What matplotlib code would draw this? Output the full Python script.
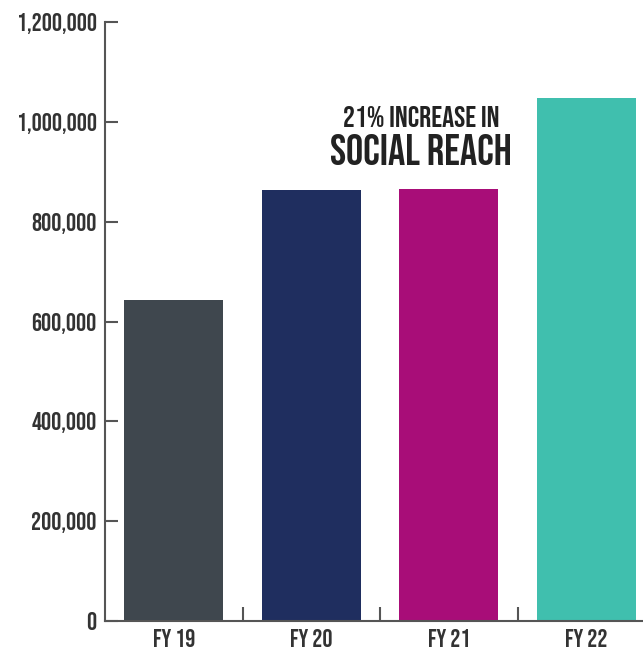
import matplotlib
matplotlib.use("Agg")
import matplotlib.pyplot as plt
from matplotlib import font_manager
from matplotlib.ticker import FuncFormatter

categories = ["FY 19", "FY 20", "FY 21", "FY 22"]
values = [643000, 863000, 865000, 1048000]
colors = ["#3f474e", "#1f2e5f", "#a80d78", "#40bfae"]
y_ticks = [0, 200000, 400000, 600000, 800000, 1000000, 1200000]
note_line1 = "21% INCREASE IN"
note_line2 = "SOCIAL REACH"

available = {f.name for f in font_manager.fontManager.ttflist}
prefs = ["Bebas Neue", "League Gothic", "Oswald", "Antonio", "Roboto Condensed"]
chosen = [p for p in prefs if p in available][:1]
plt.rcParams['font.family'] = chosen + ['DejaVu Sans']

fig = plt.figure(figsize=(6.43, 6.52), dpi=100)
W, H = 643, 652
left_px, right_px = 105, 655
bottom_px, top_px = 621, 22
ax = fig.add_axes([left_px / W, 1 - bottom_px / H, (right_px - left_px) / W, (bottom_px - top_px) / H])

x = range(len(categories))
ax.bar(x, values, width=0.72, color=colors, zorder=2)

ax.set_xlim(-0.5, 3.5)
ax.set_ylim(0, 1200000)
ax.set_yticks(y_ticks)
ax.yaxis.set_major_formatter(FuncFormatter(lambda v, p: f"{int(v):,}"))

ax.set_xticks([0.5, 1.5, 2.5])
ax.set_xticklabels([])
ax.set_xticks(list(x), minor=True)
ax.set_xticklabels(categories, minor=True)
ax.tick_params(axis='x', which='minor', length=0, pad=6, labelsize=18, labelcolor="#333333")
ax.tick_params(axis='x', which='major', direction='in', length=10, width=1.5, color="#555555")
ax.tick_params(axis='y', direction='in', length=9, width=1.5, color="#555555", labelsize=18, labelcolor="#333333", pad=6)

for s in ["top", "right"]:
    ax.spines[s].set_visible(False)
for s in ["left", "bottom"]:
    ax.spines[s].set_color("#555555")
    ax.spines[s].set_linewidth(1.5)

ax.text(1.80, 990000, note_line1, ha="center", va="baseline", fontsize=21.5, color="#222222")
ax.text(1.80, 913000, note_line2, ha="center", va="baseline", fontsize=31, color="#222222")

fig.savefig("out.png", dpi=100)
